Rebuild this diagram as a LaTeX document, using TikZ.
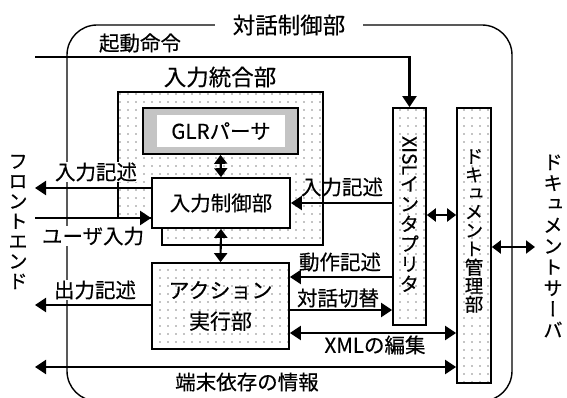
\documentclass[tikz,border=0pt]{standalone}
\usepackage{fontspec}
\setmainfont{Noto Sans CJK JP}[FakeBold=0.4]
\newfontfamily\vjp{Noto Sans CJK JP}[RawFeature=+vert,FakeBold=0.4]
\usetikzlibrary{arrows.meta,patterns.meta}
\tikzset{
  lbl/.style={font=\fontsize{20.5}{22}\selectfont, inner sep=1pt},
  wlbl/.style={lbl, fill=white},
  vtext/.style={align=center, inner sep=0pt, font=\vjp\fontsize{19.5}{20}\selectfont},
  tip/.style={},
  arr/.style={line width=2.1pt, -{Triangle[length=11pt,width=14pt]}},
  darr/.style={line width=2.1pt, {Triangle[length=11pt,width=14pt]}-{Triangle[length=11pt,width=14pt]}},
  sdarr/.style={line width=2.1pt, {Triangle[length=9pt,width=13pt]}-{Triangle[length=9pt,width=13pt]}},
  sparse/.style={preaction={fill=white}, pattern={Dots[distance=8pt,radius=0.6pt]}},
  dense/.style={preaction={fill=white}, pattern={Dots[distance=2pt,radius=0.7pt]}},
  boxline/.style={draw, line width=1.7pt},
}
\begin{document}
\begin{tikzpicture}[x=1pt,y=-1pt]
\useasboundingbox (0,0) rectangle (567,398);
% outer frame
\draw[line width=1.4pt, rounded corners=30pt] (67,25) rectangle (512,401);
\node[lbl, fill=white, inner xsep=18pt, font=\fontsize{22.5}{24}\selectfont] (title) at (289,25) {対話制御部};

% input integration region
\draw[line width=1.6pt, sparse] (118,92) -- (323,92) -- (323,245) -- (162,245) -- (162,228) -- (152,228) -- (152,218) -- (118,218) -- cycle;
\node[lbl, font=\fontsize{22.5}{24}\selectfont] (integ) at (220,77) {入力統合部};

% GLR parser
\node[boxline, dense, minimum width=155pt, minimum height=46pt, inner sep=0pt] (glr) at (220.5,131) {};
\node[fill=white, minimum width=128pt, minimum height=32pt, inner sep=0pt, lbl] (glrt) at (221,131) {GLRパーサ};

% input control
\node[boxline, fill=white, minimum width=138pt, minimum height=50pt, inner sep=0pt, lbl] (ctrl) at (221,203) {入力制御部};

% action execution
\node[boxline, sparse, minimum width=137pt, minimum height=86pt, inner sep=0pt, align=center, font=\fontsize{21}{31}\selectfont] (act) at (220.5,306) {アクション\\実行部};

% XISL interpreter
\node[boxline, sparse, minimum width=33pt, minimum height=217pt, inner sep=0pt] (xisl) at (409.5,216.5) {};
\node[vtext] (xislt) at (409.5,214) {\rotatebox{-90}{XISL}\\イ\\ン\\タ\\プ\\リ\\タ};

% document manager
\node[boxline, sparse, minimum width=34pt, minimum height=275pt, inner sep=0pt] (doc) at (474,245.5) {};
\node[vtext, font=\vjp\fontsize{18.5}{18.5}\selectfont] (doct) at (474,231) {ド\\キ\\ュ\\メ\\ン\\ト\\管\\理\\部};

% side texts
\node[vtext] (fe) at (18,222) {フ\\ロ\\ン\\ト\\エ\\ン\\ド};
\node[vtext, font=\vjp\fontsize{19.5}{21}\selectfont] (srv) at (553,246) {ド\\キ\\ュ\\メ\\ン\\ト\\サ\\ー\\バ};

% helper coordinates
\coordinate (kst) at (35,57);
\coordinate (fe1) at (35,188);
\coordinate (fe2) at (35,218);
\coordinate (fe3) at (35,305);
\coordinate (fe4) at (35,367);
\coordinate (yA) at (0,277);
\coordinate (yB) at (0,215);
\coordinate (yC) at (0,247);
\coordinate (yD) at (0,310);
\coordinate (yE) at (0,333);
\coordinate (srvend) at (535,247);

% connectors
\draw[arr] (kst) -| (xisl.north);
\node[lbl] (lkidou) at (140,43) {起動命令};

\draw[arr] (ctrl.west |- fe1) -- (fe1);
\node[wlbl] (lin1) at (96,172) {入力記述};

\draw[arr] (fe2) -- (ctrl.west |- fe2);
\node[wlbl] (luser) at (93,236) {ユーザ入力};

\draw[arr] (act.west |- fe3) -- (fe3);
\node[wlbl] (lout) at (95,290) {出力記述};

\draw[darr] (fe4) -- (doc.west |- fe4);
\node[lbl] (lterm) at (247,382) {端末依存の情報};

\draw[arr] (xisl.west |- ctrl.east) -- (ctrl.east);
\node[lbl] (lin2) at (342,187) {入力記述};

\draw[arr] (xisl.west |- yA) -- (act.east |- yA);
\node[lbl] (ldousa) at (340,262) {動作記述};

\draw[arr] (act.east |- yD) -- (xisl.west |- yD);
\node[lbl] (ltaiwa) at (338,298) {対話切替};

\draw[darr] (act.east |- yE) -- (doc.west |- yE);
\node[lbl] (lxml) at (375,345) {XMLの編集};

\draw[sdarr] (glr.south) -- (ctrl.north);
\draw[sdarr] (ctrl.south) -- (act.north);
\draw[sdarr] (xisl.east |- yB) -- (doc.west |- yB);
\draw[sdarr] (doc.east |- yC) -- (srvend);
\end{tikzpicture}
\end{document}
